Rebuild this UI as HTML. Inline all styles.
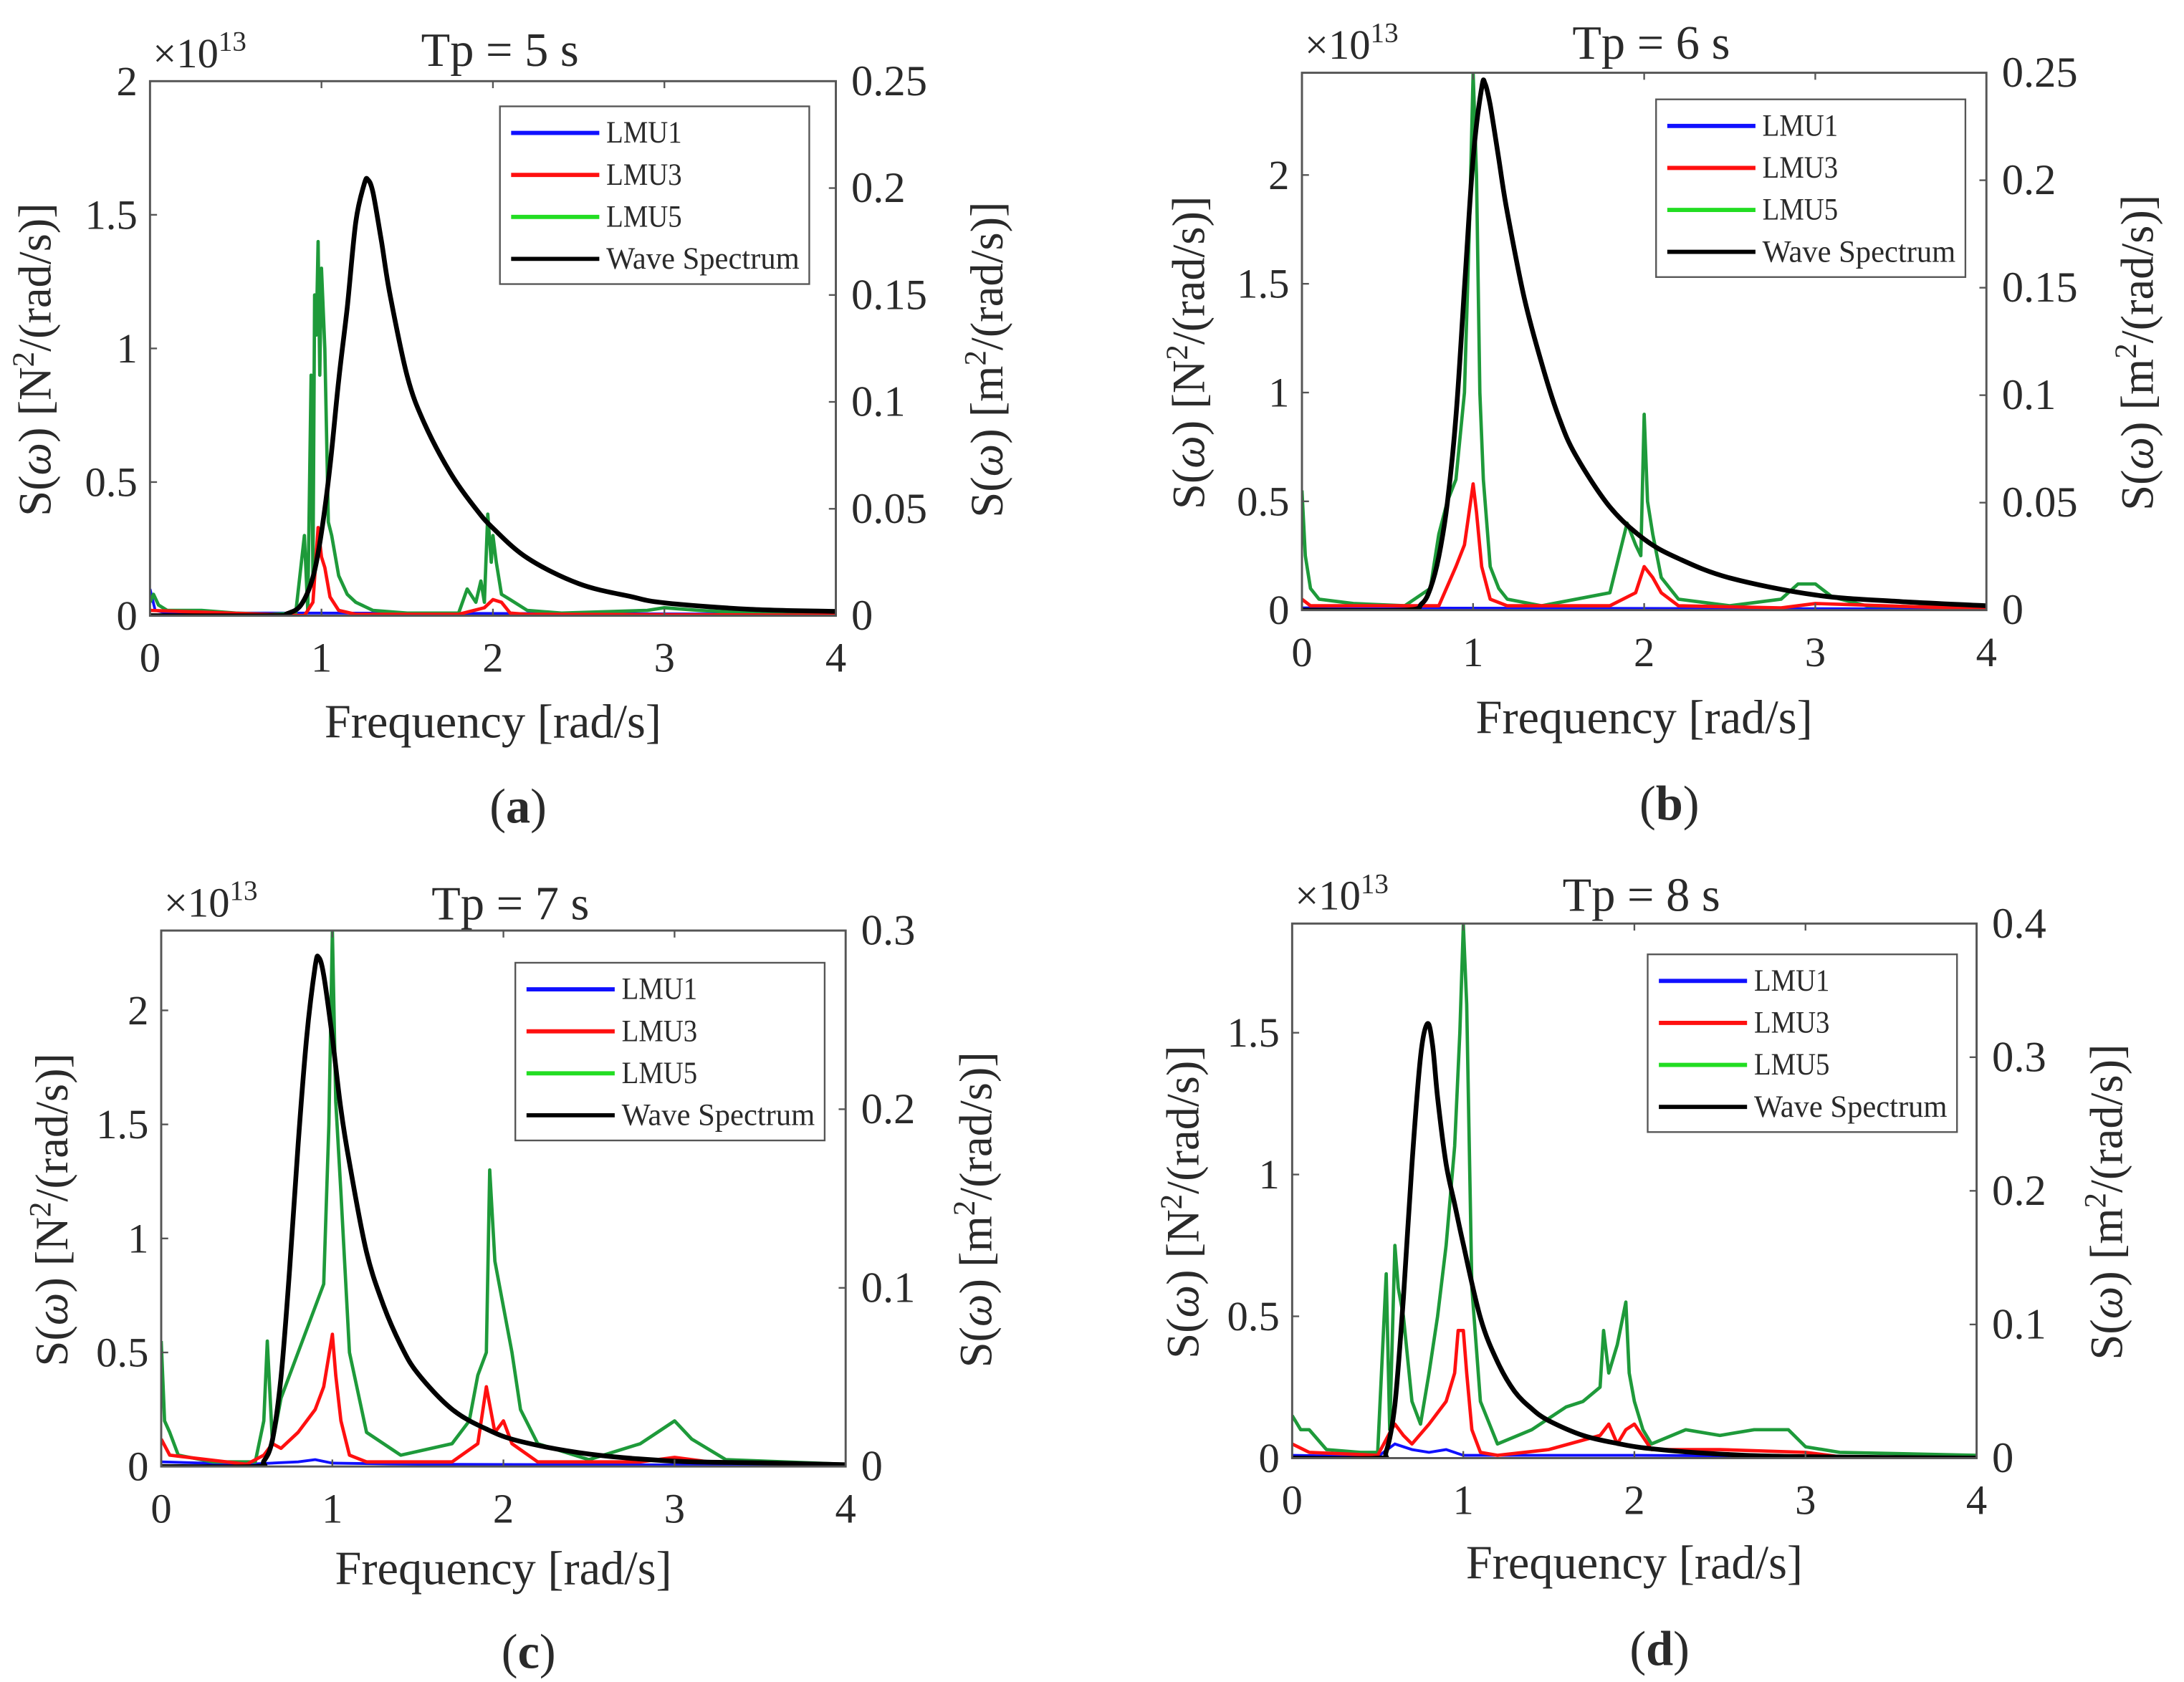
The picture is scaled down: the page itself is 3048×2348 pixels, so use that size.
<!DOCTYPE html>
<html><head><meta charset="utf-8"><style>html,body{margin:0;padding:0;background:#fff}svg{display:block}text{font-family:"Liberation Serif",serif;fill:#2a2a2a}</style></head>
<body>
<svg id="fig" xmlns="http://www.w3.org/2000/svg" width="3048" height="2348" viewBox="0 0 1560 1202"></svg>
<script>
// ---- Panel (a) Tp=5
const aWaveF=[0,0.72,0.8,0.88,0.95,1.0,1.05,1.1,1.15,1.2,1.25,1.27,1.3,1.35,1.4,1.5,1.6,1.75,1.9,2.0,2.2,2.5,2.8,3.0,3.5,4.0];
const aWaveV=[0,0,0.001,0.005,0.018,0.039,0.07,0.11,0.144,0.184,0.202,0.204,0.198,0.175,0.15,0.112,0.09,0.067,0.05,0.041,0.027,0.015,0.009,0.006,0.003,0.002];
const aGreenF=[0,0.02,0.05,0.1,0.3,0.5,0.7,0.85,0.9,0.92,0.94,0.95,0.96,0.97,0.98,0.99,1.0,1.02,1.04,1.06,1.1,1.15,1.2,1.3,1.5,1.8,1.85,1.9,1.93,1.95,1.97,1.99,2.0,2.02,2.05,2.1,2.2,2.4,2.9,3.0,3.2,3.5,4.0];
const aGreenV=[0.05,0.08,0.04,0.02,0.02,0.01,0.005,0.01,0.3,0.02,0.9,0.15,1.2,1.05,1.4,0.9,1.3,1.0,0.35,0.3,0.15,0.08,0.05,0.02,0.01,0.01,0.1,0.05,0.13,0.05,0.38,0.2,0.3,0.2,0.08,0.06,0.02,0.01,0.02,0.03,0.02,0.01,0.01];
const aRedF=[0,0.9,0.95,0.98,1.0,1.02,1.05,1.1,1.2,1.8,1.95,2.0,2.05,2.1,2.2,4];
const aRedV=[0.02,0.0,0.05,0.33,0.22,0.18,0.07,0.02,0.005,0.005,0.03,0.06,0.05,0.01,0.005,0.002];
const aBlueF=[0,0.03,0.1,1,4];
const aBlueV=[0.1,0.02,0.01,0.01,0.005];
// ---- Panel (b) Tp=6
const bWaveF=[0,0.6,0.7,0.75,0.8,0.85,0.9,0.95,1.0,1.05,1.07,1.1,1.15,1.2,1.3,1.4,1.5,1.6,1.8,2.0,2.2,2.5,3.0,3.5,4];
const bWaveV=[0,0,0.003,0.01,0.025,0.05,0.09,0.15,0.21,0.243,0.245,0.235,0.21,0.185,0.145,0.115,0.09,0.072,0.048,0.033,0.024,0.015,0.007,0.004,0.002];
const bGreenF=[0,0.02,0.05,0.1,0.3,0.6,0.75,0.8,0.85,0.9,0.95,0.98,1.0,1.02,1.04,1.06,1.1,1.15,1.2,1.4,1.8,1.9,1.95,1.98,2.0,2.02,2.05,2.1,2.2,2.5,2.8,2.9,3.0,3.1,3.3,4];
const bGreenV=[0.55,0.25,0.1,0.05,0.03,0.02,0.1,0.35,0.5,0.6,1.0,1.8,2.47,2.0,1.0,0.6,0.2,0.1,0.05,0.02,0.08,0.4,0.3,0.25,0.9,0.5,0.35,0.15,0.05,0.02,0.05,0.12,0.12,0.06,0.02,0.01];
const bRedF=[0,0.05,0.8,0.9,0.95,1.0,1.02,1.05,1.1,1.2,1.8,1.95,2.0,2.05,2.1,2.2,2.8,3,4];
const bRedV=[0.05,0.02,0.02,0.2,0.3,0.58,0.45,0.2,0.05,0.02,0.02,0.08,0.2,0.15,0.08,0.02,0.01,0.03,0.005];
const bBlueF=[0,4];
const bBlueV=[0.01,0.005];
// ---- Panel (c) Tp=7
const cWaveF=[0,0.55,0.6,0.65,0.7,0.75,0.8,0.85,0.9,0.92,0.95,1.0,1.05,1.1,1.2,1.3,1.4,1.5,1.7,1.9,2.1,2.5,3,3.5,4];
const cWaveV=[0,0,0.003,0.015,0.05,0.11,0.18,0.24,0.28,0.285,0.275,0.24,0.2,0.17,0.12,0.09,0.068,0.052,0.032,0.021,0.014,0.007,0.003,0.002,0.001];
const cGreenF=[0,0.02,0.05,0.1,0.3,0.55,0.6,0.62,0.65,0.7,0.8,0.9,0.95,0.98,1.0,1.02,1.05,1.1,1.2,1.4,1.7,1.8,1.85,1.9,1.92,1.95,2.0,2.05,2.1,2.2,2.5,2.8,2.9,3.0,3.1,3.3,4];
const cGreenV=[0.55,0.2,0.15,0.05,0.02,0.02,0.2,0.55,0.1,0.3,0.5,0.7,0.8,1.5,2.35,1.6,1.2,0.5,0.15,0.05,0.1,0.2,0.4,0.5,1.3,0.9,0.7,0.5,0.25,0.1,0.03,0.1,0.15,0.2,0.12,0.03,0.01];
const cRedF=[0,0.05,0.5,0.6,0.65,0.7,0.8,0.9,0.95,1.0,1.02,1.05,1.1,1.2,1.7,1.85,1.9,1.95,2.0,2.05,2.2,2.8,3,3.2,4];
const cRedV=[0.12,0.05,0.01,0.05,0.1,0.08,0.15,0.25,0.35,0.58,0.4,0.2,0.05,0.02,0.02,0.1,0.35,0.15,0.2,0.1,0.02,0.02,0.04,0.02,0.005];
const cBlueF=[0,0.5,0.8,0.9,1.0,1.5,4];
const cBlueV=[0.02,0.01,0.02,0.03,0.015,0.01,0.005];
// ---- Panel (d) Tp=8
const dWaveF=[0,0.5,0.55,0.6,0.65,0.7,0.75,0.79,0.82,0.85,0.9,0.95,1.0,1.1,1.2,1.3,1.4,1.5,1.7,1.9,2.1,2.5,3,4];
const dWaveV=[0,0,0.005,0.04,0.12,0.22,0.3,0.325,0.31,0.27,0.22,0.19,0.16,0.105,0.072,0.05,0.037,0.028,0.017,0.011,0.007,0.003,0.001,0];
const dGreenF=[0,0.05,0.1,0.2,0.4,0.5,0.55,0.57,0.6,0.62,0.65,0.7,0.75,0.8,0.85,0.9,0.95,0.98,1.0,1.02,1.05,1.1,1.2,1.4,1.6,1.7,1.8,1.82,1.85,1.9,1.95,1.97,2.0,2.05,2.1,2.3,2.5,2.7,2.9,3.0,3.2,4];
const dGreenV=[0.15,0.1,0.1,0.03,0.02,0.02,0.65,0.1,0.75,0.6,0.5,0.2,0.12,0.3,0.5,0.75,1.1,1.5,1.88,1.6,0.6,0.2,0.05,0.1,0.18,0.2,0.25,0.45,0.3,0.4,0.55,0.3,0.2,0.1,0.05,0.1,0.08,0.1,0.1,0.04,0.02,0.01];
const dRedF=[0,0.1,0.5,0.58,0.6,0.65,0.7,0.8,0.9,0.95,0.97,1.0,1.02,1.05,1.1,1.2,1.5,1.8,1.85,1.9,1.95,2.0,2.1,2.5,3,3.2,4];
const dRedV=[0.05,0.02,0.01,0.1,0.12,0.08,0.05,0.12,0.2,0.3,0.45,0.45,0.3,0.1,0.02,0.01,0.03,0.08,0.12,0.05,0.1,0.12,0.03,0.03,0.02,0.005,0];
const dBlueF=[0,0.5,0.6,0.7,0.8,0.9,1.0,1.5,2.0,4];
const dBlueV=[0.01,0.005,0.05,0.03,0.02,0.03,0.01,0.01,0.01,0.003];
// tick labels
const xTicks=[0,1,2,3,4];
const leftTicksABC=[0,0.5,1,1.5,2];
const leftTicksD=[0,0.5,1,1.5];
const rightTicksAB=[0,0.05,0.1,0.15,0.2,0.25];
const rightTicksC=[0,0.1,0.2,0.3];
const rightTicksD=[0,0.1,0.2,0.3,0.4];
const titles=["Tp = 5 s","Tp = 6 s","Tp = 7 s","Tp = 8 s"];
const captions=["a","b","c","d"];

const NS="http://www.w3.org/2000/svg";
const svg=document.getElementById('fig');
function el(tag,attrs,parent,txt){const e=document.createElementNS(NS,tag);for(const k in attrs)e.setAttribute(k,attrs[k]);if(txt!==undefined)e.textContent=txt;(parent||svg).appendChild(e);return e;}

const panels=[
 {key:'a',L:107,R:597,T:58,B:440,lmax:2,rmax:0.25,lt:leftTicksABC,rt:rightTicksAB,wf:aWaveF,wv:aWaveV,gf:aGreenF,gv:aGreenV,rf:aRedF,rv:aRedV,bf:aBlueF,bv:aBlueV,leg:[357,76],ty:47,xl:527,cap:588,ll:36,rl:716},
 {key:'b',L:930,R:1419,T:52,B:436,lmax:2.47,rmax:0.25,lt:leftTicksABC,rt:rightTicksAB,wf:bWaveF,wv:bWaveV,gf:bGreenF,gv:bGreenV,rf:bRedF,rv:bRedV,bf:bBlueF,bv:bBlueV,leg:[1183,71],ty:42,xl:524,cap:586,ll:860,rl:1538},
 {key:'c',L:115,R:604,T:665,B:1048,lmax:2.35,rmax:0.3,lt:leftTicksABC,rt:rightTicksC,wf:cWaveF,wv:cWaveV,gf:cGreenF,gv:cGreenV,rf:cRedF,rv:cRedV,bf:cBlueF,bv:cBlueV,leg:[368,688],ty:657,xl:1132,cap:1192,ll:48,rl:708},
 {key:'d',L:923,R:1412,T:660,B:1042,lmax:1.885,rmax:0.4,lt:leftTicksD,rt:rightTicksD,wf:dWaveF,wv:dWaveV,gf:dGreenF,gv:dGreenV,rf:dRedF,rv:dRedV,bf:dBlueF,bv:dBlueV,leg:[1177,682],ty:651,xl:1128,cap:1190,ll:856,rl:1516}
];

function smoothPath(pts){
  let d='M'+pts[0][0].toFixed(1)+' '+pts[0][1].toFixed(1);
  for(let i=0;i<pts.length-1;i++){
    const p0=pts[Math.max(0,i-1)],p1=pts[i],p2=pts[i+1],p3=pts[Math.min(pts.length-1,i+2)];
    const c1x=p1[0]+(p2[0]-p0[0])/6,c1y=p1[1]+(p2[1]-p0[1])/6;
    const c2x=p2[0]-(p3[0]-p1[0])/6,c2y=p2[1]-(p3[1]-p1[1])/6;
    d+=' C'+c1x.toFixed(1)+' '+c1y.toFixed(1)+' '+c2x.toFixed(1)+' '+c2y.toFixed(1)+' '+p2[0].toFixed(1)+' '+p2[1].toFixed(1);
  }
  return d;
}

panels.forEach((p,i)=>{
  const g=el('g',{});
  
  
  const xs=f=>p.L+(p.R-p.L)*f/4;
  const yl=v=>p.B-(p.B-p.T)*v/p.lmax;
  const yr=v=>p.B-(p.B-p.T)*v/p.rmax;
  const cx=(p.L+p.R)/2;
  const path=(F,V,ys)=>F.map((f,j)=>(j?'L':'M')+xs(f).toFixed(1)+' '+Math.max(p.T,ys(V[j])).toFixed(1)).join(' ');
  const clipId='clip'+p.key;
  const cp=el('clipPath',{id:clipId},g);el('rect',{x:p.L,y:p.T,width:p.R-p.L,height:p.B-p.T},cp);
  const lines=el('g',{'clip-path':'url(#'+clipId+')'},g);
  let s;
  s=el('path',{d:path(p.bf,p.bv,yl),fill:'none',stroke:'#1010ff','stroke-width':2},lines);
  
  
  s=el('path',{d:path(p.gf,p.gv,yl),fill:'none',stroke:'#1e9a3a','stroke-width':2.4,'stroke-linejoin':'round'},lines);
  
  
  s=el('path',{d:path(p.rf,p.rv,yl),fill:'none',stroke:'#ff1010','stroke-width':2.4,'stroke-linejoin':'round'},lines);
  
  
  s=el('path',{d:smoothPath(p.wf.map((f,j)=>[xs(f),yr(p.wv[j])])),fill:'none',stroke:'#000','stroke-width':3.4,'stroke-linejoin':'round'},lines);
  
  
  s=el('rect',{x:p.L,y:p.T,width:p.R-p.L,height:p.B-p.T,fill:'none',stroke:'#555','stroke-width':1.5},g);
  
  
  xTicks.forEach(t=>{
    el('line',{x1:xs(t),x2:xs(t),y1:p.B,y2:p.B-5,stroke:'#555','stroke-width':1.2},g);
    el('line',{x1:xs(t),x2:xs(t),y1:p.T,y2:p.T+5,stroke:'#555','stroke-width':1.2},g);
    const tx=el('text',{x:xs(t),y:p.B+40,'font-size':30,'text-anchor':'middle'},g,String(t));
    
    
  });
  p.lt.forEach(t=>{
    el('line',{x1:p.L,x2:p.L+5,y1:yl(t),y2:yl(t),stroke:'#555','stroke-width':1.2},g);
    const tx=el('text',{x:p.L-9,y:yl(t)+10,'font-size':30,'text-anchor':'end'},g,String(t));
    
    
  });
  p.rt.forEach(t=>{
    el('line',{x1:p.R,x2:p.R-5,y1:yr(t),y2:yr(t),stroke:'#555','stroke-width':1.2},g);
    const tx=el('text',{x:p.R+11,y:yr(t)+10,'font-size':31,'text-anchor':'start'},g,String(t));
    
    
  });
  let t=el('text',{x:p.L+2,y:p.T-10,'font-size':30},g);
  t.innerHTML='×10<tspan dy="-12" font-size="20">13</tspan>';
  
  
  t=el('text',{x:cx+5,y:p.ty,'font-size':34,'text-anchor':'middle','fill':'#111'},g,titles[i]);
  
  
  t=el('text',{x:cx,y:p.xl,'font-size':34,'text-anchor':'middle'},g,'Frequency [rad/s]');
  
  
  t=el('text',{x:cx+18,y:p.cap,'font-size':35,'text-anchor':'middle','fill':'#111'},g);
  t.innerHTML='(<tspan font-weight="bold">'+captions[i]+'</tspan>)';
  
  
  const my=(p.T+p.B)/2+8;
  t=el('text',{x:p.ll,y:my,'font-size':33,'text-anchor':'middle',transform:'rotate(-90 '+p.ll+' '+my+')'},g);
  t.innerHTML='S(<tspan font-style="italic">ω</tspan>) [N<tspan dy="-12" font-size="22">2</tspan><tspan dy="12">/(rad/s)]</tspan>';
  
  
  t=el('text',{x:p.rl,y:my,'font-size':33,'text-anchor':'middle',transform:'rotate(-90 '+p.rl+' '+my+')'},g);
  t.innerHTML='S(<tspan font-style="italic">ω</tspan>) [m<tspan dy="-12" font-size="22">2</tspan><tspan dy="12">/(rad/s)]</tspan>';
  
  
  const lg=el('g',{},g);
  
  
  const [lx,ly]=p.leg;
  el('rect',{x:lx,y:ly,width:221,height:127,fill:'#fff',stroke:'#555','stroke-width':1.2},lg);
  [['LMU1','#1010ff'],['LMU3','#ff1010'],['LMU5','#22dd22'],['Wave Spectrum','#000']].forEach((e,k)=>{
    const ey=ly+19+k*30;
    const en=el('g',{},lg);
    
    
    el('line',{x1:lx+8,x2:lx+71,y1:ey,y2:ey,stroke:e[1],'stroke-width':3},en);
    el('text',{x:lx+76,y:ey+7,'font-size':22,textLength:e[0].length>5?138:54,lengthAdjust:'spacingAndGlyphs'},en,e[0]);
  });
});
</script>
</body></html>
